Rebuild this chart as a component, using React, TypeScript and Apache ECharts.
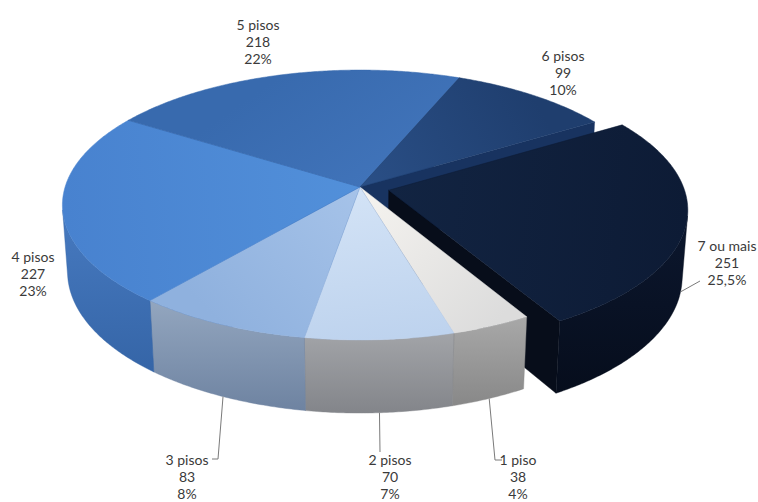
import React, { useEffect, useRef } from "react";
import * as echarts from "echarts";

// ---------- data ----------
const categories = ["1 piso", "2 pisos", "3 pisos", "4 pisos", "5 pisos", "6 pisos", "7 ou mais"];
const values = [38, 70, 83, 227, 218, 99, 251];
const percentLabels = ["4%", "7%", "8%", "23%", "22%", "10%", "25,5%"];
const explodedIndex = 6;

// ---------- styles ----------
const TOP_COLORS = [
  ["#f6f4f0", "#dcdcdc"],
  ["#d3e3f6", "#bed3ee"],
  ["#a6c3e9", "#8fb1de"],
  ["#5290da", "#4882cf"],
  ["#4073b9", "#386aae"],
  ["#2a4f86", "#1f3e6e"],
  ["#122442", "#0d1b35"],
];
const WALL_COLORS = [
  ["#a8a8a8", "#888888"],
  ["#a2a4a8", "#83858a"],
  ["#93a6bf", "#6e83a1"],
  ["#477ac0", "#3565a7"],
  ["#355f9c", "#2a5088"],
  ["#1d3a66", "#152c50"],
  ["#0c172e", "#060d1c"],
];
const FACE_COLORS = ["#8c8c8c", "#8a8c90", "#7286a3", "#3564a5", "#2c558f", "#183360", "#070d1a"];

// ---------- layout ----------
const START_ANGLE = 150; // degrees, clockwise from the back (12 o'clock)
const CX = 360;
const CY = 187;
const FOCAL = 1973;
const DIST = 6.69;
const SIN_E = 0.4495;
const COS_E = Math.sqrt(1 - SIN_E * SIN_E);
const THICK = 0.255;
const EXPLODE = 0.1;

const LABEL_LAYOUT: { c: number[]; leader?: number[][] }[] = [
  { c: [518, 476], leader: [[495, 460], [502, 460]] },
  { c: [390, 476], leader: [[380, 452]] },
  { c: [187, 476], leader: [[218, 459], [212, 459]] },
  { c: [33, 273] },
  { c: [258, 41] },
  { c: [563, 72] },
  { c: [727, 262], leader: [[700, 281]] },
];

function proj(X: number, Y: number, Z: number): number[] {
  const dep = DIST - Y * SIN_E - Z * COS_E;
  return [CX + (FOCAL * X) / dep, CY - (FOCAL * (Y * COS_E - Z * SIN_E)) / dep];
}

const rad = (d: number) => (d * Math.PI) / 180;

export default function App() {
  const ref = useRef<HTMLDivElement>(null);
  useEffect(() => {
    if (!ref.current) return;
    const chart = echarts.init(ref.current, undefined, { renderer: "svg" });
    const total = values.reduce((a, b) => a + b, 0);
    const cum: number[] = [];
    values.reduce((acc, v, i) => {
      cum[i] = acc;
      return acc + v;
    }, 0);

    const renderItem = (params: any, api: any) => {
      const i = params.dataIndex;
      const v = api.value(0);
      const a1 = START_ANGLE + (360 * cum[i]) / total;
      const a2 = a1 + (360 * v) / total;
      const mid = (a1 + a2) / 2;
      const ex = i === explodedIndex ? EXPLODE : 0;
      const ox = ex * Math.sin(rad(mid));
      const oz = -ex * Math.cos(rad(mid));
      const rim = (t: number, Y: number) => proj(ox + Math.sin(rad(t)), Y, oz - Math.cos(rad(t)));
      const children: any[] = [];

      const ts: number[] = [];
      for (let t = a1; t < a2; t += 0.5) ts.push(t);
      ts.push(a2);

      // top face
      const apex = proj(ox, 0, oz);
      const topPts = [apex, ...ts.map((t) => rim(t, 0))];
      const rm = rim(mid, 0);
      children.push({
        type: "polygon",
        z2: 3,
        shape: { points: topPts },
        style: {
          fill: new echarts.graphic.LinearGradient(apex[0], apex[1], rm[0], rm[1], [
            { offset: 0, color: TOP_COLORS[i][0] },
            { offset: 1, color: TOP_COLORS[i][1] },
          ], true),
          stroke: TOP_COLORS[i][1],
          lineWidth: 0.5,
        },
      });

      // outer wall (visible part)
      const vis = (t: number) => -1 - ox * Math.sin(rad(t)) + (oz - DIST * COS_E) * Math.cos(rad(t)) > 0;
      const wts = ts.filter(vis);
      if (wts.length >= 2) {
        const topW = wts.map((t) => rim(t, 0));
        const botW = wts.map((t) => rim(t, -THICK)).reverse();
        const ys = [...topW, ...botW].map((p) => p[1]);
        const y0 = Math.min(...ys);
        const y1 = Math.max(...ys);
        children.push({
          type: "polygon",
          z2: 2,
          shape: { points: [...topW, ...botW] },
          style: {
            fill: new echarts.graphic.LinearGradient(0, y0, 0, y1, [
              { offset: 0, color: WALL_COLORS[i][0] },
              { offset: 1, color: WALL_COLORS[i][1] },
            ], true),
            stroke: WALL_COLORS[i][1],
            lineWidth: 0.4,
          },
        });
      }

      // cut faces
      const face = (t: number, sign: number) => {
        const n = sign * (Math.cos(rad(t)) * -ox + Math.sin(rad(t)) * (DIST * COS_E - oz));
        if (n <= 0) return;
        children.push({
          type: "polygon",
          z2: 1,
          shape: { points: [proj(ox, 0, oz), rim(t, 0), rim(t, -THICK), proj(ox, -THICK, oz)] },
          style: { fill: FACE_COLORS[i], stroke: FACE_COLORS[i], lineWidth: 0.4 },
        });
      };
      face(a2, 1);
      face(a1, -1);

      // label
      const lay = LABEL_LAYOUT[i];
      children.push({
        type: "text",
        z2: 10,
        style: {
          text: `${categories[i]}\n${v}\n${percentLabels[i]}`,
          x: lay.c[0],
          y: lay.c[1],
          align: "center",
          verticalAlign: "middle",
          lineHeight: 17,
          font: "14px Lato, 'Open Sans', sans-serif",
          fill: "#3a3a3a",
        },
      });
      if (lay.leader) {
        const s = rim(mid, -THICK);
        children.push({
          type: "polyline",
          z2: 10,
          shape: { points: [s, ...lay.leader] },
          style: { stroke: "#7a7a7a", lineWidth: 1, fill: null },
        });
      }
      return { type: "group", children };
    };

    chart.setOption({
      animation: false,
      backgroundColor: "#ffffff",
      series: [
        {
          type: "custom",
          coordinateSystem: "none",
          renderItem,
          data: values.map((v, i) => ({ name: categories[i], value: [v] })),
        },
      ],
    });
    return () => chart.dispose();
  }, []);
  return <div ref={ref} style={{ position: "fixed", left: 0, top: 0, width: 758, height: 502 }} />;
}
